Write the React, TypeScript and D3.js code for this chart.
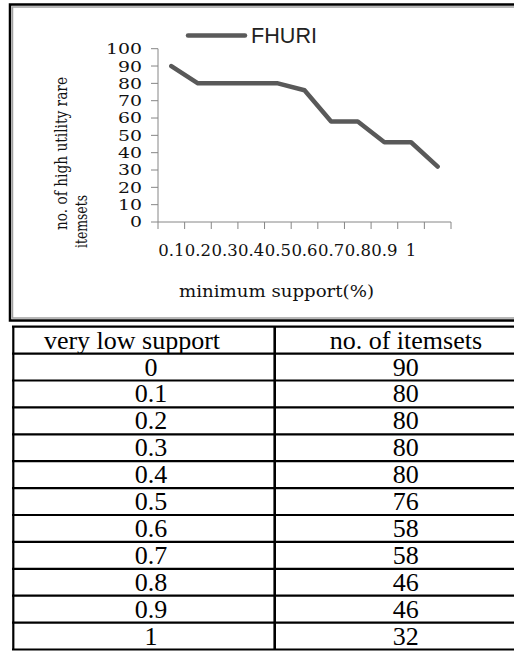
import React from "react";
import * as d3 from "d3";

const categories = ["0.1", "0.2", "0.3", "0.4", "0.5", "0.6", "0.7", "0.8", "0.9", "1", ""];
const seriesName = "FHURI";
const values = [90, 80, 80, 80, 80, 76, 58, 58, 46, 46, 32];
const yTicks = [0, 10, 20, 30, 40, 50, 60, 70, 80, 90, 100];
const tableHeader = ["very low support", "no. of itemsets"];
const tableSupport = ["0", "0.1", "0.2", "0.3", "0.4", "0.5", "0.6", "0.7", "0.8", "0.9", "1"];
const tableCounts = ["90", "80", "80", "80", "80", "76", "58", "58", "46", "46", "32"];

const W = 514;
const H = 651;

export default function App() {
  const x = d3.scaleBand<number>().domain(d3.range(categories.length)).range([158, 451]);
  const y = d3.scaleLinear().domain([0, 100]).range([222, 48.7]);
  const line = d3
    .line<number>()
    .x((_, i) => (x(i) as number) + x.bandwidth() / 2)
    .y((d) => y(d));
  const tickXs = d3.range(categories.length + 1).map((i) => 158 + i * x.step());

  const tableTop = 326.7;
  const rowH = 26.9;
  const nRows = tableSupport.length + 1;
  const rowY = d3.scaleLinear().domain([0, nRows]).range([tableTop, tableTop + rowH * nRows]);
  const colX = [13.3, 274.7, 537];
  const serif = "'DejaVu Serif', serif";
  const times = "'Liberation Serif', 'Times New Roman', serif";
  const rows = [tableHeader, ...tableSupport.map((s, i) => [s, tableCounts[i]])];
  const colCenter = (r: number, c: number) =>
    c === 1 ? (colX[1] + colX[2]) / 2 : r === 0 ? 132 : 151;

  return (
    <svg width={W} height={H} style={{ position: "fixed", left: 0, top: 0, background: "#fff" }}>
      {/* chart frame */}
      <rect x={10} y={4.5} width={600} height={316} fill="#fff" stroke="#000" strokeWidth={2.5} />
      <rect x={12.5} y={7} width={600} height={311} fill="none" stroke="#a0a0a0" strokeWidth={1.5} />

      {/* legend */}
      <line x1={188} x2={245} y1={35.5} y2={35.5} stroke="#5a5a5a" strokeWidth={4.5} strokeLinecap="round" />
      <text x={251} y={42.5} fontFamily="'Liberation Sans', Arial, sans-serif" fontSize={22} fill="#222" textLength={66} lengthAdjust="spacingAndGlyphs">
        {seriesName}
      </text>

      {/* y axis */}
      <line x1={158} x2={158} y1={y(100)} y2={y(0)} stroke="#868686" strokeWidth={1} />
      {yTicks.map((t) => {
        const s = String(t);
        return (
          <g key={t}>
            <line x1={151} x2={158} y1={y(t)} y2={y(t)} stroke="#868686" strokeWidth={1} />
            <text
              x={142 - s.length * 12}
              y={y(t)}
              dy="0.37em"
              fontFamily={serif}
              fontSize={14.8}
              fill="#111"
              textLength={s.length * 12}
              lengthAdjust="spacingAndGlyphs"
            >
              {s}
            </text>
          </g>
        );
      })}

      {/* x axis */}
      <line x1={158} x2={451} y1={y(0)} y2={y(0)} stroke="#868686" strokeWidth={1} />
      {tickXs.map((tx, i) => (
        <line key={i} x1={tx} x2={tx} y1={y(0)} y2={y(0) + 7} stroke="#868686" strokeWidth={1} />
      ))}
      {categories.map((c, i) => (
        <text key={i} x={(x(i) as number) + x.bandwidth() / 2} y={256} textAnchor="middle" fontFamily={serif} fontSize={16.5} fill="#111">
          {c}
        </text>
      ))}

      {/* axis titles */}
      <text x={179} y={297} fontFamily={serif} fontSize={16.5} fill="#111" textLength={195} lengthAdjust="spacingAndGlyphs">
        minimum support(%)
      </text>
      <text transform="translate(67,230) rotate(-90)" fontFamily={serif} fontSize={16.5} fill="#111" textLength={153} lengthAdjust="spacingAndGlyphs">
        no. of high utility rare
      </text>
      <text transform="translate(87,248) rotate(-90)" fontFamily={serif} fontSize={16.5} fill="#111" textLength={53} lengthAdjust="spacingAndGlyphs">
        itemsets
      </text>

      {/* series line */}
      <path d={line(values) || ""} fill="none" stroke="#595959" strokeWidth={4.5} strokeLinejoin="round" strokeLinecap="round" />

      {/* table */}
      {d3.range(nRows + 1).map((r) => (
        <line key={"h" + r} x1={12} x2={W + 10} y1={rowY(r)} y2={rowY(r)} stroke="#000" strokeWidth={2.2} />
      ))}
      <line x1={colX[0]} x2={colX[0]} y1={rowY(0)} y2={rowY(nRows)} stroke="#000" strokeWidth={2.2} />
      <line x1={colX[1]} x2={colX[1]} y1={rowY(0)} y2={rowY(nRows)} stroke="#000" strokeWidth={2.6} />
      {rows.map((row, r) =>
        row.map((cell, c) => (
          <text
            key={r + "-" + c}
            x={colCenter(r, c)}
            y={rowY(r + 1) - 5}
            textAnchor="middle"
            fontFamily={times}
            fontSize={26}
            fill="#000"
          >
            {cell}
          </text>
        ))
      )}
    </svg>
  );
}
